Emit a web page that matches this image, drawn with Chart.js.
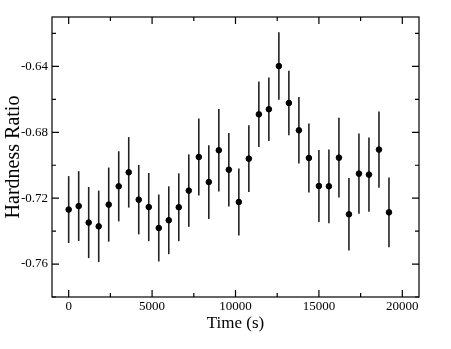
<!DOCTYPE html>
<html>
<head>
<meta charset="utf-8">
<script src="https://cdn.jsdelivr.net/npm/chart.js@4.4.0/dist/chart.umd.min.js"></script>
<style>
  html, body { margin: 0; padding: 0; background: #fff; }
  #wrap { width: 451px; height: 349px; }
</style>
</head>
<body>
<div id="wrap"><canvas id="hrChart"></canvas></div>
<script>
// datos
const times = [0, 600, 1200, 1800, 2400, 3000, 3600, 4200, 4800, 5400, 6000,
  6600, 7200, 7800, 8400, 9000, 9600, 10200, 10800, 11400, 12000, 12600,
  13200, 13800, 14400, 15000, 15600, 16200, 16800, 17400, 18000, 18600, 19200];
const hardness = [-0.7269, -0.7248, -0.7348, -0.7371, -0.7239, -0.7128, -0.7043,
  -0.7209, -0.7254, -0.7381, -0.7334, -0.7255, -0.7154, -0.6950, -0.7102, -0.6909,
  -0.7027, -0.7223, -0.6960, -0.6691, -0.6660, -0.6398, -0.6622, -0.6788, -0.6956,
  -0.7126, -0.7128, -0.6954, -0.7298, -0.7051, -0.7057, -0.6905, -0.7286];
const errors = [0.0203, 0.0212, 0.0216, 0.0217, 0.0225, 0.0213, 0.0214, 0.0211,
  0.0207, 0.0203, 0.0206, 0.0206, 0.0220, 0.0234, 0.0224, 0.0251, 0.0223, 0.0203,
  0.0203, 0.0199, 0.0193, 0.0205, 0.0196, 0.0202, 0.0210, 0.0218, 0.0224, 0.0242,
  0.0220, 0.0243, 0.0226, 0.0232, 0.0212];

const xTicks = [0, 5000, 10000, 15000, 20000];
const xMinorTicks = [2500, 7500, 12500, 17500];
const yTicks = [-0.76, -0.72, -0.68, -0.64];
const yMinorTicks = [-0.78, -0.74, -0.70, -0.66, -0.62];

const serif = "'Liberation Serif', 'DejaVu Serif', serif";

// barras de error, debajo de los puntos
const errorBars = {
  id: 'errorBars',
  beforeDatasetsDraw(chart) {
    const ctx = chart.ctx, xs = chart.scales.x, ys = chart.scales.y;
    ctx.save();
    ctx.strokeStyle = '#222';
    ctx.lineWidth = 1.6;
    times.forEach((t, i) => {
      const px = xs.getPixelForValue(t);
      ctx.beginPath();
      ctx.moveTo(px, ys.getPixelForValue(hardness[i] - errors[i]));
      ctx.lineTo(px, ys.getPixelForValue(hardness[i] + errors[i]));
      ctx.stroke();
    });
    ctx.restore();
  }
};

// marco y marcas hacia dentro en los cuatro lados
const frameTicks = {
  id: 'frameTicks',
  afterDraw(chart) {
    const ctx = chart.ctx, a = chart.chartArea, xs = chart.scales.x, ys = chart.scales.y;
    ctx.save();
    ctx.strokeStyle = '#000';
    ctx.lineWidth = 1.2;
    ctx.strokeRect(a.left, a.top, a.right - a.left, a.bottom - a.top);
    const mark = (vals, len, horiz) => {
      vals.forEach(v => {
        ctx.beginPath();
        if (horiz) {
          const px = xs.getPixelForValue(v);
          ctx.moveTo(px, a.bottom); ctx.lineTo(px, a.bottom - len);
          ctx.moveTo(px, a.top); ctx.lineTo(px, a.top + len);
        } else {
          const py = ys.getPixelForValue(v);
          ctx.moveTo(a.left, py); ctx.lineTo(a.left + len, py);
          ctx.moveTo(a.right, py); ctx.lineTo(a.right - len, py);
        }
        ctx.stroke();
      });
    };
    mark(xTicks, 7, true);
    mark(xMinorTicks, 4, true);
    mark(yTicks, 7, false);
    mark(yMinorTicks, 4, false);
    ctx.restore();
  }
};

new Chart(document.getElementById('hrChart'), {
  type: 'scatter',
  data: {
    datasets: [{
      label: 'Hardness Ratio',
      data: times.map((t, i) => ({ x: t, y: hardness[i] })),
      backgroundColor: '#000',
      borderColor: '#000',
      pointRadius: 2.8,
      pointHoverRadius: 2.8
    }]
  },
  options: {
    responsive: true,
    maintainAspectRatio: false,
    animation: false,
    layout: { padding: { top: 17, right: 32, left: 0, bottom: 0 } },
    plugins: { legend: { display: false }, tooltip: { enabled: false } },
    scales: {
      x: {
        type: 'linear',
        min: -1000,
        max: 21000,
        afterBuildTicks: s => { s.ticks = xTicks.map(v => ({ value: v })); },
        afterFit: s => { s.height = 52; },
        grid: { display: false, drawTicks: false },
        border: { display: false },
        ticks: { color: '#000', padding: 2, maxRotation: 0, font: { family: serif, size: 13 },
                 callback: v => String(v) },
        title: { display: true, text: 'Time (s)', color: '#000',
                 padding: { top: 0, bottom: 17 }, font: { family: serif, size: 17, lineHeight: 1 } }
      },
      y: {
        min: -0.78,
        max: -0.61,
        afterBuildTicks: s => { s.ticks = yTicks.map(v => ({ value: v })); },
        afterFit: s => { s.width = 52; },
        grid: { display: false, drawTicks: false },
        border: { display: false },
        ticks: { color: '#000', padding: 4, font: { family: serif, size: 13 },
                 callback: v => v.toFixed(2) },
        title: { display: true, text: 'Hardness Ratio', color: '#000',
                 padding: { top: 4, bottom: 0 }, font: { family: serif, size: 20, lineHeight: 1 } }
      }
    }
  },
  plugins: [errorBars, frameTicks]
});
</script>
</body>
</html>
